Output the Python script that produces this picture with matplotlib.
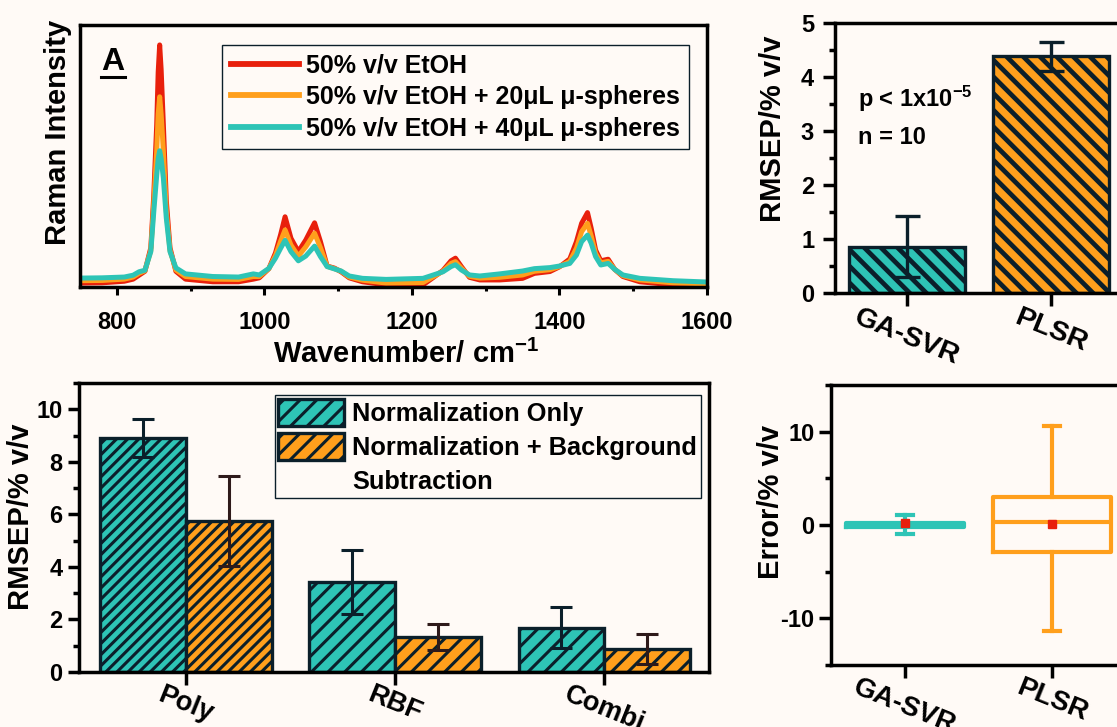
import matplotlib
matplotlib.use("Agg")
import matplotlib.pyplot as plt
from matplotlib.patches import Patch
from matplotlib.ticker import MultipleLocator

# colours
TEAL = '#2EC4B6'
ORANGE = '#FF9F1C'
RED = '#E8200C'
DARK = '#0B1F2A'
BROWN = '#2E1A1A'
BG = '#FFFAF6'

# Raman spectra (arbitrary intensity, 0-1 of the plotting window)
wavenumber = [750, 780, 810, 822, 830, 838, 846, 850, 854, 856, 858, 860, 863, 867, 872,
              880, 893, 930, 965, 985, 993, 1006, 1015, 1022, 1028, 1036, 1046, 1056,
              1068, 1076, 1085, 1095, 1104, 1115, 1133, 1165, 1215, 1242, 1253, 1259,
              1267, 1278, 1292, 1319, 1350, 1366, 1387, 1400, 1414, 1423, 1430, 1438,
              1443, 1449, 1456, 1466, 1475, 1486, 1509, 1554, 1600]
etoh = [0.015, 0.016, 0.022, 0.030, 0.045, 0.060, 0.150, 0.350, 0.620, 0.820, 0.924, 0.830,
        0.620, 0.330, 0.150, 0.060, 0.030, 0.020, 0.020, 0.030, 0.035, 0.070, 0.130, 0.200,
        0.268, 0.186, 0.135, 0.179, 0.245, 0.173, 0.080, 0.072, 0.058, 0.035, 0.020, 0.008,
        0.008, 0.063, 0.100, 0.110, 0.078, 0.037, 0.027, 0.027, 0.033, 0.052, 0.059, 0.077,
        0.107, 0.173, 0.243, 0.284, 0.224, 0.141, 0.100, 0.106, 0.067, 0.040, 0.020, 0.008,
        0.006]
etoh_20ul = [0.024, 0.025, 0.030, 0.038, 0.052, 0.062, 0.140, 0.320, 0.520, 0.660, 0.726,
             0.660, 0.520, 0.290, 0.140, 0.065, 0.040, 0.030, 0.029, 0.040, 0.040, 0.070,
             0.120, 0.175, 0.218, 0.160, 0.118, 0.153, 0.205, 0.150, 0.079, 0.070, 0.060,
             0.038, 0.026, 0.015, 0.017, 0.060, 0.090, 0.097, 0.072, 0.041, 0.034, 0.037,
             0.046, 0.060, 0.066, 0.078, 0.098, 0.148, 0.211, 0.243, 0.195, 0.128, 0.092,
             0.098, 0.067, 0.043, 0.027, 0.016, 0.012]
etoh_40ul = [0.034, 0.035, 0.038, 0.045, 0.058, 0.064, 0.135, 0.287, 0.427, 0.490, 0.520,
             0.490, 0.416, 0.263, 0.135, 0.073, 0.050, 0.040, 0.038, 0.050, 0.046, 0.071,
             0.110, 0.148, 0.178, 0.135, 0.100, 0.118, 0.156, 0.116, 0.078, 0.069, 0.061,
             0.042, 0.033, 0.029, 0.033, 0.058, 0.078, 0.085, 0.065, 0.046, 0.042, 0.050,
             0.061, 0.070, 0.074, 0.080, 0.090, 0.122, 0.173, 0.198, 0.167, 0.116, 0.084,
             0.090, 0.067, 0.046, 0.033, 0.024, 0.019]
spectra_labels = ['50% v/v EtOH', '50% v/v EtOH + 20μL μ-spheres', '50% v/v EtOH + 40μL μ-spheres']

# model comparison (RMSEP, % v/v)
models = ['GA-SVR', 'PLSR']
model_rmsep = [0.86, 4.38]
model_rmsep_err = [0.56, 0.27]

# preprocessing comparison
kernels = ['Poly', 'RBF', 'Combi']
norm_only = [8.9, 3.42, 1.69]
norm_only_err = [0.72, 1.21, 0.79]
norm_bg = [5.75, 1.32, 0.87]
norm_bg_err = [1.72, 0.50, 0.57]
kernel_hatch = ['///', '//', '//']

# prediction error distributions (% v/v)
err_q1 = [-0.25, -2.86]
err_med = [0.0, 0.29]
err_q3 = [0.25, 3.04]
err_lo = [-0.97, -11.33]
err_hi = [1.07, 10.64]
err_mean = [0.18, 0.07]

plt.rcParams['font.family'] = ['Liberation Sans', 'DejaVu Sans']
plt.rcParams['font.weight'] = 'bold'
plt.rcParams['axes.labelweight'] = 'bold'
plt.rcParams['axes.unicode_minus'] = False
plt.rcParams['mathtext.fontset'] = 'custom'
plt.rcParams['mathtext.rm'] = 'Liberation Sans:bold'
plt.rcParams['mathtext.it'] = 'Liberation Sans:bold'
plt.rcParams['mathtext.bf'] = 'Liberation Sans:bold'
plt.rcParams['hatch.linewidth'] = 2.2
plt.rcParams['hatch.color'] = DARK
plt.rcParams['axes.linewidth'] = 2.5

W, H = 1117, 727
fig = plt.figure(figsize=(W / 100, H / 100), dpi=100, facecolor=BG)


def px_axes(left, top, right, bottom):
    return fig.add_axes([left / W, 1 - bottom / H, (right - left) / W, (bottom - top) / H],
                        facecolor=BG)


def hatch_width(bars, lw):
    for b in bars:
        if hasattr(b, 'set_hatch_linewidth'):
            b.set_hatch_linewidth(lw)


# ---- A: spectra
ax1 = px_axes(80, 25, 707, 287)
for ys, col, lab in zip([etoh, etoh_20ul, etoh_40ul], [RED, ORANGE, TEAL], spectra_labels):
    ax1.plot(wavenumber, ys, color=col, lw=3.6, label=lab, solid_joinstyle='round')
ax1.set_xlim(750, 1600)
ax1.set_ylim(0, 1)
ax1.set_yticks([])
ax1.xaxis.set_major_locator(MultipleLocator(200))
ax1.xaxis.set_minor_locator(MultipleLocator(100))
ax1.tick_params(axis='x', which='major', length=6, width=2.2, pad=11, labelsize=17)
ax1.tick_params(axis='x', which='minor', length=3, width=2.2)
ax1.set_xlabel('Wavenumber/ cm$^{-1}$', fontsize=21)
ax1.xaxis.set_label_coords(0.52, -0.2)
ax1.xaxis.label.set_va('top')
ax1.set_ylabel('Raman Intensity', fontsize=21)
ax1.yaxis.set_label_coords(-0.012, 0.59)
ax1.text(0.034, 0.86, 'A', transform=ax1.transAxes, fontsize=23, ha='left', va='center')
ax1.plot([0.034, 0.071], [0.8, 0.8], transform=ax1.transAxes, color='black', lw=2.2)
leg1 = ax1.legend(loc='upper right', bbox_to_anchor=(0.971, 0.924), borderaxespad=0,
                  fontsize=18, frameon=True, fancybox=False, framealpha=1,
                  handlelength=2.7, handletextpad=0.3, labelspacing=0.3, borderpad=0.35)
leg1.get_frame().set_edgecolor(DARK)
leg1.get_frame().set_linewidth(1)
leg1.get_frame().set_facecolor(BG)
for ln in leg1.get_lines():
    ln.set_linewidth(4.2)

# ---- RMSEP by model
ax2 = px_axes(835, 23, 1123, 293)
pos2 = [1, 2]
bars2 = ax2.bar(pos2, model_rmsep, width=0.8, color=[TEAL, ORANGE], edgecolor=DARK,
                linewidth=2.4, hatch='\\\\', zorder=2)
hatch_width(bars2, 3.4)
ax2.errorbar(pos2, model_rmsep, yerr=model_rmsep_err, fmt='none', ecolor=DARK,
             elinewidth=2.4, capsize=9, capthick=2.4, zorder=3)
ax2.set_xlim(0.5, 2.5)
ax2.set_ylim(0, 5)
ax2.yaxis.set_major_locator(MultipleLocator(1))
ax2.yaxis.set_minor_locator(MultipleLocator(0.5))
ax2.set_xticks(pos2, models, rotation=-22, ha='center', fontsize=20.5)
ax2.tick_params(axis='x', length=9, width=2.5, pad=-1)
ax2.tick_params(axis='y', which='major', length=9, width=2.5, pad=6, labelsize=17)
ax2.tick_params(axis='y', which='minor', length=4, width=2.5)
ax2.set_ylabel('RMSEP/% v/v', fontsize=21)
ax2.yaxis.set_label_coords(-0.167, 0.61)
ax2.text(0.08, 0.72, 'p < 1x10$^{-5}$', transform=ax2.transAxes, fontsize=17, va='center')
ax2.text(0.08, 0.575, 'n = 10', transform=ax2.transAxes, fontsize=17, va='center')

# ---- RMSEP by kernel and preprocessing
ax3 = px_axes(79, 383, 709, 672)
pos3 = [1, 2, 3]
bw = 0.41
for i, p in enumerate(pos3):
    b1 = ax3.bar(p - bw / 2, norm_only[i], width=bw, color=TEAL, edgecolor=DARK,
                 linewidth=2.4, hatch=kernel_hatch[i], zorder=2)
    b2 = ax3.bar(p + bw / 2, norm_bg[i], width=bw, color=ORANGE, edgecolor=DARK,
                 linewidth=2.4, hatch=kernel_hatch[i], zorder=2)
    hatch_width(list(b1) + list(b2), 2.2)
ax3.errorbar([p - bw / 2 for p in pos3], norm_only, yerr=norm_only_err, fmt='none',
             ecolor=DARK, elinewidth=2.2, capsize=8, capthick=2.2, zorder=3)
ax3.errorbar([p + bw / 2 for p in pos3], norm_bg, yerr=norm_bg_err, fmt='none',
             ecolor=BROWN, elinewidth=2.2, capsize=8, capthick=2.2, zorder=3)
ax3.set_xlim(0.49, 3.5)
ax3.set_ylim(0, 11)
ax3.yaxis.set_major_locator(MultipleLocator(2))
ax3.yaxis.set_minor_locator(MultipleLocator(1))
ax3.set_xticks(pos3, kernels, rotation=-22, ha='center', fontsize=19.5)
ax3.tick_params(axis='x', length=9, width=2.5, pad=-2)
ax3.tick_params(axis='y', which='major', length=8, width=2.5, pad=4, labelsize=17)
ax3.tick_params(axis='y', which='minor', length=4, width=2.5)
ax3.set_ylabel('RMSEP/% v/v', fontsize=21)
ax3.yaxis.set_label_coords(-0.07, 0.537)
handles3 = [Patch(facecolor=TEAL, edgecolor=DARK, linewidth=2.4, hatch='//'),
            Patch(facecolor=ORANGE, edgecolor=DARK, linewidth=2.4, hatch='//'),
            Patch(facecolor='none', edgecolor='none')]
hatch_width(handles3[:2], 2.2)
leg3 = ax3.legend(handles3, ['Normalization Only', 'Normalization + Background', 'Subtraction'],
                  loc='upper right', bbox_to_anchor=(0.987, 0.958), borderaxespad=0,
                  fontsize=18.3, frameon=True, fancybox=False, framealpha=1,
                  handlelength=2.6, handleheight=1.25, handletextpad=0.3,
                  labelspacing=0.28, borderpad=0.15)
leg3.get_frame().set_edgecolor(DARK)
leg3.get_frame().set_linewidth(1)
leg3.get_frame().set_facecolor(BG)

# ---- prediction error box plots
ax4 = px_axes(831, 385, 1126, 665)
stats = []
for i, name in enumerate(models):
    stats.append(dict(label=name, q1=err_q1[i], med=err_med[i], q3=err_q3[i],
                      whislo=err_lo[i], whishi=err_hi[i], mean=err_mean[i], fliers=[]))
for i, col in enumerate([TEAL, ORANGE]):
    lp = dict(color=col, linewidth=3)
    ax4.bxp([stats[i]], positions=[i + 1], widths=0.8, capwidths=0.11, showmeans=True,
            boxprops=lp, medianprops=lp, whiskerprops=lp, capprops=lp,
            meanprops=dict(marker='s', markerfacecolor=RED, markeredgecolor=RED,
                           markersize=6), manage_ticks=False, zorder=3)
ax4.set_xlim(0.5, 2.5)
ax4.set_ylim(-15, 15)
ax4.yaxis.set_major_locator(MultipleLocator(10))
ax4.yaxis.set_minor_locator(MultipleLocator(5))
ax4.set_xticks([1, 2], models, rotation=-22, ha='center', fontsize=20)
ax4.tick_params(axis='x', length=9, width=2.5, pad=-2)
ax4.tick_params(axis='y', which='major', length=9, width=2.5, pad=3, labelsize=17)
ax4.tick_params(axis='y', which='minor', length=4, width=2.5)
ax4.set_ylabel('Error/% v/v', fontsize=21)
ax4.yaxis.set_label_coords(-0.156, 0.582)

fig.savefig('out.png', dpi=100, facecolor=BG)
